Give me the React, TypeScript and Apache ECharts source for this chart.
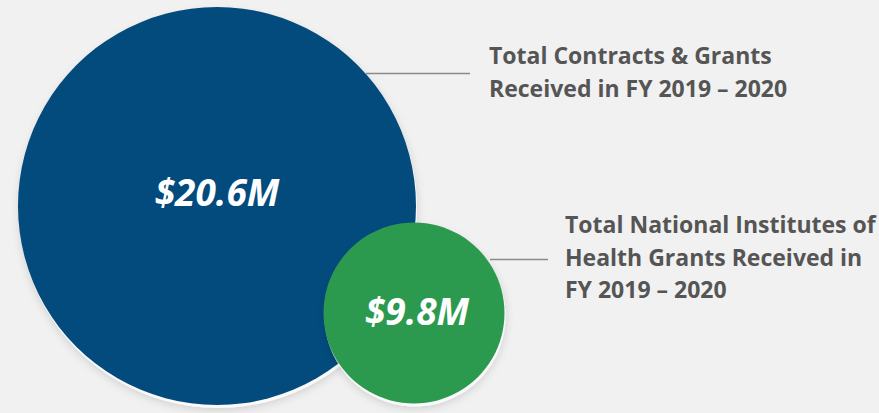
import React, { useEffect, useRef } from "react";
import * as echarts from "echarts";

// ---- data ----
const categories = [
  "Total Contracts & Grants\nReceived in FY 2019 – 2020",
  "Total National Institutes of\nHealth Grants Received in\nFY 2019 – 2020",
];
const values = [20.6, 9.8]; // $ millions
const valueLabels = ["$20.6M", "$9.8M"];

// ---- layout / style (not data) ----
const W = 879;
const H = 413;
const centers = [
  [217, 206],
  [414, 313],
];
const colors = ["#034b7d", "#2b9a4e"];
const labelOffsets = [
  [0, -15],
  [3, -3],
];
const FONT = "'Open Sans', 'Noto Sans', sans-serif";

export default function App() {
  const ref = useRef<HTMLDivElement>(null);
  useEffect(() => {
    document.body.style.margin = "0";
    const chart = echarts.init(ref.current!, null, { renderer: "svg" });
    const series: any[] = [];
    values.forEach((v, i) => {
      const pt = [centers[i][0], centers[i][1], v];
      series.push({
        type: "scatter",
        z: 2 + i * 2,
        silent: true,
        symbolOffset: [1, 3],
        data: [pt],
        itemStyle: {
          color: "#ffffff",
          shadowColor: "rgba(0,0,0,0.18)",
          shadowBlur: 8,
          shadowOffsetY: 2,
        },
      });
      series.push({
        type: "scatter",
        z: 3 + i * 2,
        silent: true,
        data: [pt],
        itemStyle: { color: colors[i], opacity: 1 },
        label: {
          show: true,
          position: "inside",
          formatter: () => valueLabels[i],
          color: "#ffffff",
          fontFamily: FONT,
          fontWeight: "bold",
          fontStyle: "italic",
          fontSize: 37,
          offset: labelOffsets[i],
        },
      });
    });
    chart.setOption({
      animation: false,
      backgroundColor: "#f1f1f1",
      grid: { left: 0, right: 0, top: 0, bottom: 0 },
      xAxis: { type: "value", min: 0, max: W, show: false },
      yAxis: { type: "value", min: 0, max: H, inverse: true, show: false },
      visualMap: {
        show: false,
        type: "continuous",
        dimension: 2,
        min: Math.min(...values),
        max: Math.max(...values),
        inRange: { symbolSize: [181, 398] },
      },
      series,
      graphic: [
        {
          type: "line",
          shape: { x1: 366, y1: 73.5, x2: 470, y2: 73.5 },
          style: { stroke: "#8a8a8a", lineWidth: 1.5 },
          z: 10,
        },
        {
          type: "line",
          shape: { x1: 490, y1: 259.5, x2: 548, y2: 259.5 },
          style: { stroke: "#8a8a8a", lineWidth: 1.5 },
          z: 10,
        },
        {
          type: "text",
          left: 489,
          top: 38,
          z: 10,
          style: {
            text: categories[0],
            fill: "#555555",
            font: `bold 23px ${FONT}`,
            lineHeight: 33,
          },
        },
        {
          type: "text",
          left: 565,
          top: 208,
          z: 10,
          style: {
            text: categories[1],
            fill: "#555555",
            font: `bold 23px ${FONT}`,
            lineHeight: 32.5,
          },
        },
      ],
    });
    return () => chart.dispose();
  }, []);
  return <div ref={ref} style={{ width: W, height: H }} />;
}
